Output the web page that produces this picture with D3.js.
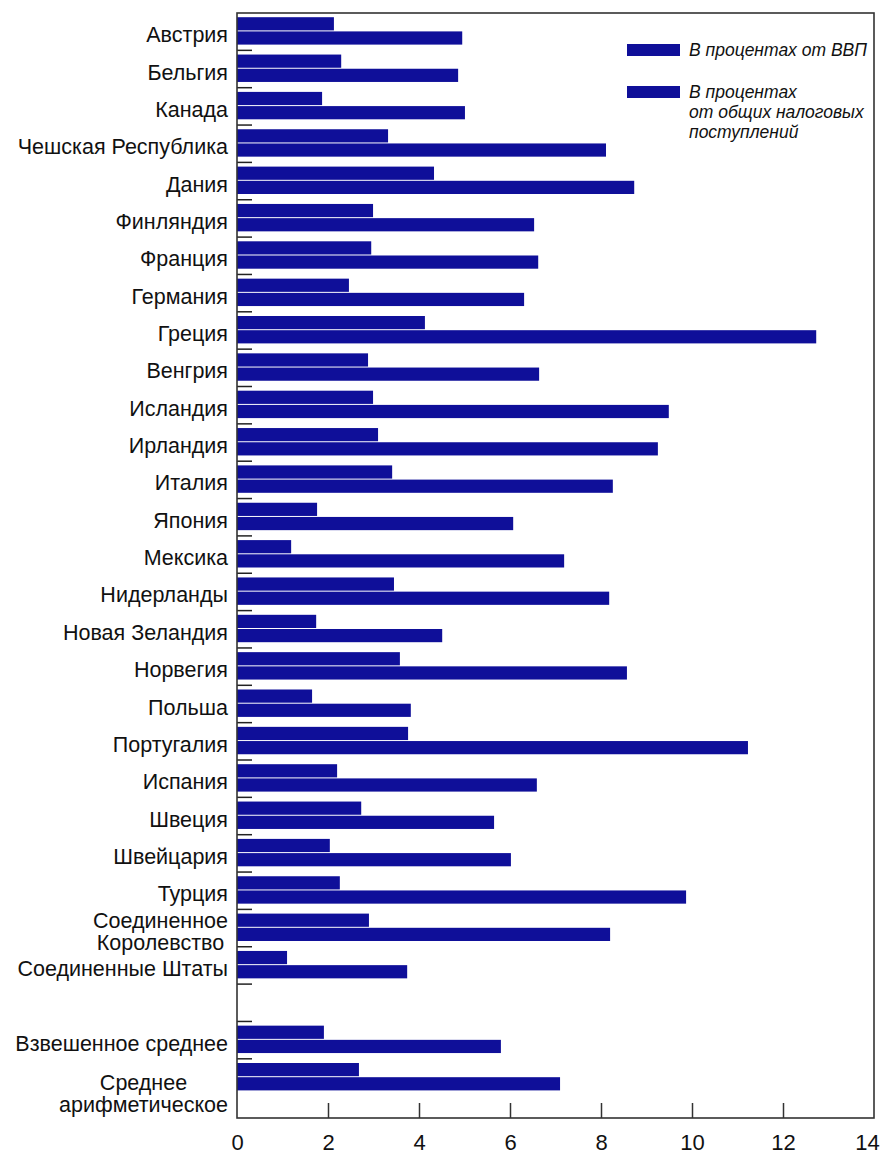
<!DOCTYPE html>
<html>
<head>
<meta charset="utf-8">
<script src="https://cdn.jsdelivr.net/npm/d3@7"></script>
<style>
  body { margin: 0; background: #fff; }
  text { font-family: "Liberation Sans", Arial, sans-serif; fill: #111; }
</style>
</head>
<body>
<div id="chart"></div>
<script>
const width = 882, height = 1154;

// categories (top to bottom), "" = empty spacer slot
const countries = [
  'Австрия', 'Бельгия', 'Канада', 'Чешская Республика', 'Дания', 'Финляндия',
  'Франция', 'Германия', 'Греция', 'Венгрия', 'Исландия', 'Ирландия', 'Италия',
  'Япония', 'Мексика', 'Нидерланды', 'Новая Зеландия', 'Норвегия', 'Польша',
  'Португалия', 'Испания', 'Швеция', 'Швейцария', 'Турция',
  'Соединенное\nКоролевство', 'Соединенные Штаты', '',
  'Взвешенное среднее', 'Среднее\nарифметическое'
];

// % of GDP
const pctGdp = [
  2.13, 2.29, 1.87, 3.32, 4.33, 2.99, 2.95, 2.46, 4.13, 2.88, 2.99, 3.10, 3.41,
  1.76, 1.19, 3.45, 1.74, 3.58, 1.65, 3.76, 2.20, 2.73, 2.04, 2.26, 2.90, 1.10,
  null, 1.91, 2.68
];

// % of total tax revenue
const pctTax = [
  4.95, 4.86, 5.01, 8.11, 8.73, 6.53, 6.62, 6.31, 12.73, 6.64, 9.49, 9.25, 8.26,
  6.07, 7.19, 8.18, 4.51, 8.57, 3.82, 11.23, 6.59, 5.65, 6.02, 9.87, 8.20, 3.74,
  null, 5.80, 7.10
];

const xTicks = [0, 2, 4, 6, 8, 10, 12, 14];
const seriesNames = ['В процентах от ВВП', 'В процентах\nот общих налоговых\nпоступлений'];

const barColor = '#0f0f99';

const rows = countries.map((c, i) => ({ key: 'r' + i, name: c, gdp: pctGdp[i], tax: pctTax[i] }));

const svg = d3.select('#chart').append('svg')
  .attr('width', width)
  .attr('height', height)
  .attr('viewBox', [0, 0, width, height]);

const plot = { left: 237, right: 874, top: 13, bottom: 1118 };

const x = d3.scaleLinear().domain([0, 14]).range([plot.left, plot.right]);

const y = d3.scaleBand()
  .domain(rows.map(d => d.key))
  .range([plot.top, plot.top + rows.length * 37.35])
  .padding(0);

const inner = d3.scaleBand()
  .domain(['gdp', 'tax'])
  .range([4.2, 31.6])
  .paddingInner(0.07);

// bars
const groups = svg.append('g').attr('id', 'bars')
  .selectAll('g')
  .data(rows.filter(d => d.gdp != null))
  .join('g')
  .attr('transform', d => `translate(0,${y(d.key)})`);

groups.selectAll('rect')
  .data(d => [{ s: 'gdp', v: d.gdp }, { s: 'tax', v: d.tax }])
  .join('rect')
  .attr('x', x(0))
  .attr('y', d => inner(d.s))
  .attr('width', d => x(d.v) - x(0))
  .attr('height', inner.bandwidth())
  .attr('fill', barColor);

// small separators on the left axis
svg.append('g').attr('id', 'separators')
  .selectAll('line')
  .data(rows.slice(1))
  .join('line')
  .attr('x1', plot.left)
  .attr('x2', plot.left + 15)
  .attr('y1', d => y(d.key))
  .attr('y2', d => y(d.key))
  .attr('stroke', '#222')
  .attr('stroke-width', 1.5);

// frame
svg.append('rect')
  .attr('x', plot.left)
  .attr('y', plot.top)
  .attr('width', plot.right - plot.left)
  .attr('height', plot.bottom - plot.top)
  .attr('fill', 'none')
  .attr('stroke', '#333')
  .attr('stroke-width', 1.6);

// x axis
const xAxis = svg.append('g')
  .attr('transform', `translate(0,${plot.bottom})`)
  .call(d3.axisBottom(x).tickValues(xTicks).tickSizeInner(-15).tickSizeOuter(0).tickPadding(16));

xAxis.select('.domain').remove();
xAxis.selectAll('.tick line')
  .attr('stroke', '#333')
  .attr('stroke-width', 1.5)
  .filter(d => d === 0 || d === 14).remove();
xAxis.selectAll('.tick text')
  .attr('font-size', 22)
  .attr('font-family', '"Liberation Sans", Arial, sans-serif')
  .attr('fill', '#111')
  .attr('dx', d => d === 14 ? -7 : 0);

// category labels
const labelRight = 228;
const labels = svg.append('g').attr('id', 'labels')
  .selectAll('text')
  .data(rows.filter(d => d.name !== ''))
  .join('text')
  .attr('font-size', 21.5)
  .attr('text-anchor', 'middle');

labels.each(function (d, i, nodes) {
  const lines = d.name.split('\n');
  const t = d3.select(this);
  const last = i === nodes.length - 1;
  const cy = y(d.key) + y.bandwidth() / 2 + (last ? 16 : 3);
  const lh = 22;
  lines.forEach((ln, j) => {
    t.append('tspan')
      .attr('y', cy + (j - (lines.length - 1) / 2) * lh)
      .attr('dy', '0.35em')
      .text(ln);
  });
  const tspans = t.selectAll('tspan').nodes();
  const maxW = d3.max(tspans, n => n.getComputedTextLength());
  t.selectAll('tspan').attr('x', labelRight - maxW / 2);
});

// legend
const legend = svg.append('g').attr('id', 'legend');
const legendY = [50, 92];
seriesNames.forEach((name, i) => {
  legend.append('rect')
    .attr('x', 627).attr('y', legendY[i] - 6)
    .attr('width', 53).attr('height', 12)
    .attr('fill', barColor);
  const lines = name.split('\n');
  const t = legend.append('text')
    .attr('font-size', 17.5)
    .attr('font-style', 'italic');
  lines.forEach((ln, j) => {
    t.append('tspan')
      .attr('x', 689)
      .attr('y', legendY[i] + j * 20)
      .attr('dy', '0.35em')
      .text(ln);
  });
});
</script>
</body>
</html>
